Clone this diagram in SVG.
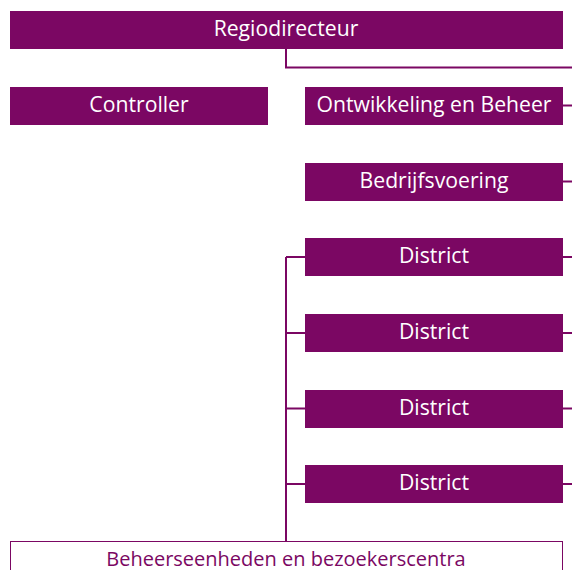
<svg xmlns="http://www.w3.org/2000/svg" width="572" height="570" viewBox="0 0 572 570">
<style>
.box{fill:#7b0763}
.t{font-family:"Open Sans","Noto Sans",sans-serif;font-size:21.2px;fill:#fff;text-anchor:middle}
.tp{font-family:"Open Sans","Noto Sans",sans-serif;font-size:20px;fill:#7b0763;text-anchor:middle}
.c{stroke:#7b0763;stroke-width:2;fill:none}
</style>
<rect width="572" height="570" fill="#fff"/>
<g id="connectors">
<path class="c" d="M286 48 V67.5 H572"/>
<path class="c" d="M562 105.5 H572"/>
<path class="c" d="M562 181.5 H572"/>
<path class="c" d="M562 257 H572"/>
<path class="c" d="M562 333 H572"/>
<path class="c" d="M562 408.5 H572"/>
<path class="c" d="M562 484 H572"/>
<path class="c" d="M286 257 V541"/>
<path class="c" d="M286 257 H305 M286 333 H305 M286 408.5 H305 M286 484 H305"/>
</g>
<g id="regiodirecteur"><rect class="box" x="10" y="11" width="553" height="38"/><text class="t" x="286" y="36">Regiodirecteur</text></g>
<g id="controller"><rect class="box" x="10" y="87" width="258" height="38"/><text class="t" x="139" y="112">Controller</text></g>
<g id="ontwikkeling"><rect class="box" x="305" y="87" width="258" height="38"/><text class="t" x="434" y="112">Ontwikkeling en Beheer</text></g>
<g id="bedrijfsvoering"><rect class="box" x="305" y="163" width="258" height="38"/><text class="t" x="434" y="188">Bedrijfsvoering</text></g>
<g id="district1"><rect class="box" x="305" y="238" width="258" height="38"/><text class="t" x="434" y="263">District</text></g>
<g id="district2"><rect class="box" x="305" y="314" width="258" height="38"/><text class="t" x="434" y="339">District</text></g>
<g id="district3"><rect class="box" x="305" y="390" width="258" height="38"/><text class="t" x="434" y="414.5">District</text></g>
<g id="district4"><rect class="box" x="305" y="465" width="258" height="38"/><text class="t" x="434" y="490">District</text></g>
<g id="beheerseenheden"><rect x="10.5" y="541.5" width="552" height="40" fill="#fff" stroke="#7b0763" stroke-width="1"/><text class="tp" x="286" y="566">Beheerseenheden en bezoekerscentra</text></g>
</svg>
